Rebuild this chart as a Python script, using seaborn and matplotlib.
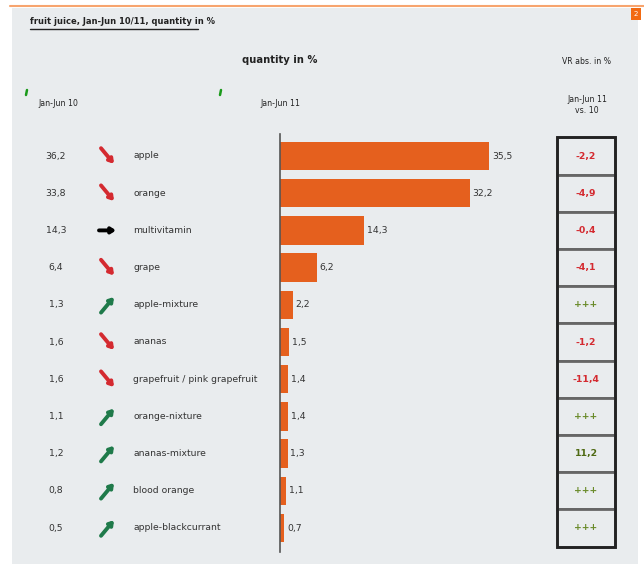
import matplotlib
matplotlib.use("Agg")
import matplotlib.pyplot as plt
import matplotlib.transforms as mtransforms
from matplotlib.patches import Rectangle
import seaborn as sns
import pandas as pd

# ---------------- data ----------------
categories = ["apple", "orange", "multivitamin", "grape", "apple-mixture", "ananas",
              "grapefruit / pink grapefruit", "orange-nixture", "ananas-mixture",
              "blood orange", "apple-blackcurrant"]
jan_jun_10 = [36.2, 33.8, 14.3, 6.4, 1.3, 1.6, 1.6, 1.1, 1.2, 0.8, 0.5]
jan_jun_11 = [35.5, 32.2, 14.3, 6.2, 2.2, 1.5, 1.4, 1.4, 1.3, 1.1, 0.7]
vr_labels = ["-2,2", "-4,9", "-0,4", "-4,1", "+++", "-1,2", "-11,4", "+++", "11,2", "+++", "+++"]
trend = ["down", "down", "flat", "down", "up", "down", "down", "up", "up", "up", "up"]

title = "fruit juice, Jan-Jun 10/11, quantity in %"
col_header = "quantity in %"
vr_header = "VR abs. in %"
sub10 = "Jan-Jun 10"
sub11 = "Jan-Jun 11"
vr_sub = "Jan-Jun 11\nvs. 10"

def fmt(v):
    return f"{v:.1f}".replace(".", ",")

sns.set_theme(style="white")
plt.rcParams["font.family"] = ["DejaVu Sans"]
fs = 6.7

W, H = 644, 570
fig = plt.figure(figsize=(W / 100, H / 100), dpi=100)
fig.patch.set_facecolor("white")

PANEL = "#e9ecee"
ORANGE = "#e5601e"
RED = "#d42a30"
GREEN = "#6a8b2a"
DKGREEN = "#4f6a14"
TXT = "#333333"

def fx(px):
    return px / W

def fy(py):
    return 1 - py / H

# background panel
fig.patches.append(Rectangle((fx(12), fy(564)), fx(638) - fx(12), fy(8) - fy(564),
                             transform=fig.transFigure, facecolor=PANEL, edgecolor="none", zorder=-5))
fig.add_artist(plt.Line2D([fx(10), fx(644)], [fy(6), fy(6)], transform=fig.transFigure,
                          color="#f7a46e", lw=1.5))
fig.patches.append(Rectangle((fx(631), fy(20)), fx(10), fy(8) - fy(20), transform=fig.transFigure,
                             facecolor="#f26a12", edgecolor="none", zorder=2))
fig.text(fx(636), fy(14), "2", color="white", fontsize=5, ha="center", va="center")

# ---------------- main bar axes ----------------
row0, row_step = 156.0, 37.2
y_top_px = row0 - 0.5 * row_step
y_bot_px = row0 + 10.5 * row_step
x0_px, px_per_unit = 280.0, 5.89
ax_right_px = 545.0
ax = fig.add_axes([fx(x0_px), fy(y_bot_px), fx(ax_right_px) - fx(x0_px), fy(y_top_px) - fy(y_bot_px)])
ax.set_facecolor("none")
ax.set_zorder(1)

df = pd.DataFrame({"category": categories, "value": jan_jun_11})
sns.barplot(data=df, x="value", y="category", color=ORANGE, saturation=1, width=0.76,
            ax=ax, orient="h", linewidth=0, edgecolor="none")
ax.set_xlim(0, (ax_right_px - x0_px) / px_per_unit)
ax.set_ylim(len(categories) - 0.5, -0.5)
ax.set_xlabel("")
ax.set_ylabel("")
ax.set_xticks([])
ax.set_yticks([])
for s in ["top", "right", "bottom"]:
    ax.spines[s].set_visible(False)
ax.spines["left"].set_color("#555555")
ax.spines["left"].set_linewidth(1.2)
ax.spines["left"].set_bounds(len(categories) - 0.35, -0.6)

for i, v in enumerate(jan_jun_11):
    ax.annotate(fmt(v), xy=(v, i), xytext=(2.0, 0), textcoords="offset points",
                ha="left", va="center", fontsize=fs, color=TXT)

# left columns: blended fig-x / data-y
blend = mtransforms.blended_transform_factory(fig.transFigure, ax.transData)
for i, (c, v, t) in enumerate(zip(categories, jan_jun_10, trend)):
    ax.text(fx(56), i, fmt(v), transform=blend, ha="center", va="center", fontsize=fs, color=TXT)
    ax.text(fx(133), i, c, transform=blend, ha="left", va="center", fontsize=fs, color=TXT)
    d = 0.21
    if t == "down":
        start, end, col = (fx(101), i - d), (fx(114), i + d), RED
    elif t == "up":
        start, end, col = (fx(101), i + d), (fx(114), i - d), "#1f7a4a"
    else:
        start, end, col = (fx(99), i), (fx(116), i), "black"
    ax.annotate("", xy=end, xycoords=blend, xytext=start, textcoords=blend,
                arrowprops=dict(arrowstyle="-|>,head_length=0.2,head_width=0.13",
                                lw=2.8, color=col, shrinkA=0, shrinkB=0),
                annotation_clip=False)

# ---------------- right VR column ----------------
axr = fig.add_axes([fx(557), fy(y_bot_px), fx(615) - fx(557), fy(y_top_px) - fy(y_bot_px)])
axr.set_xlim(0, 1)
axr.set_ylim(len(categories) - 0.5, -0.5)
axr.axis("off")
axr.set_zorder(1)
for i, lab in enumerate(vr_labels):
    axr.add_patch(Rectangle((0, i - 0.5), 1, 1, facecolor=PANEL, edgecolor="#666666", lw=2.0,
                            clip_on=False))
    if lab.startswith("-"):
        col = RED
    elif lab == "+++":
        col = GREEN
    else:
        col = DKGREEN
    axr.text(0.5, i, lab, ha="center", va="center", fontsize=fs, color=col, fontweight="bold")
axr.add_patch(Rectangle((0, -0.5), 1, len(categories), facecolor="none", edgecolor="#222222",
                        lw=2.0, clip_on=False))

# ---------------- headers ----------------
fig.text(fx(30), fy(22), title, ha="left", va="center", fontsize=6.0, fontweight="bold",
         color="#222222")
fig.add_artist(plt.Line2D([fx(30), fx(198)], [fy(29), fy(29)], transform=fig.transFigure,
                          color="#222222", lw=1.0))
fig.text(fx(280), fy(60), col_header, ha="center", va="center", fontsize=7.2,
         fontweight="bold", color="#222222")
fig.text(fx(587), fy(61), vr_header, ha="center", va="center", fontsize=5.6, color="#222222")
fig.text(fx(58), fy(103), sub10, ha="center", va="center", fontsize=5.6, color="#222222")
fig.text(fx(280), fy(103), sub11, ha="center", va="center", fontsize=5.6, color="#222222")
fig.text(fx(587), fy(105), vr_sub, ha="center", va="center", fontsize=5.6, color="#222222",
         linespacing=1.4)
for gx in (26, 220):
    fig.add_artist(plt.Line2D([fx(gx), fx(gx + 1)], [fy(95), fy(90)], transform=fig.transFigure,
                              color="#1a9a1a", lw=1.8))

fig.savefig("out.png", dpi=100, facecolor=fig.get_facecolor())
